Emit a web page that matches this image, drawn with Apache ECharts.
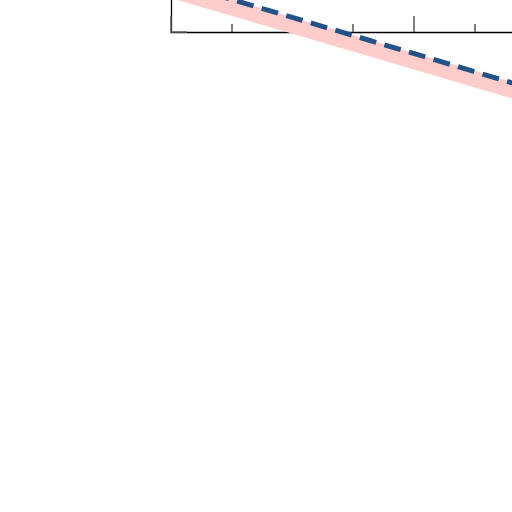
<!DOCTYPE html>
<html>
<head>
<meta charset="utf-8">
<script src="https://cdn.jsdelivr.net/npm/echarts@6/dist/echarts.min.js"></script>
<style>html,body{margin:0;padding:0;background:#fff;}#c{width:512px;height:512px;}</style>
</head>
<body>
<div id="c"></div>
<script>
var xValues = [0, 1, 2, 3];
var bandValues = [0.348, 0.054, -0.240, -0.534];
var dashValues = [0.416, 0.120, -0.177, -0.475];

function pairs(xs, ys) { return xs.map(function (x, i) { return [x, ys[i]]; }); }

var chart = echarts.init(document.getElementById('c'), null, {renderer: 'canvas'});
chart.setOption({
  animation: false,
  backgroundColor: '#ffffff',
  grid: {left: 171, top: -453.2, width: 363.9, height: 485.2, containLabel: false, outerBoundsMode: 'none'},
  xAxis: {
    type: 'value', min: 0, max: 3, interval: 1,
    axisLine: {show: true, lineStyle: {color: '#000', width: 1.3}},
    axisTick: {show: true, inside: true, length: 16, lineStyle: {color: '#555', width: 1.5}},
    minorTick: {show: true, splitNumber: 2, length: 8, lineStyle: {color: '#555', width: 1.5}},
    axisLabel: {show: false},
    splitLine: {show: false}
  },
  yAxis: {
    type: 'value', min: 0, max: 4, interval: 1,
    axisLine: {show: true, lineStyle: {color: '#000', width: 1.3}},
    axisTick: {show: true, inside: true, length: 16, lineStyle: {color: '#666', width: 1.5}},
    axisLabel: {show: false},
    splitLine: {show: false}
  },
  series: [
    {
      type: 'line', data: pairs(xValues, bandValues), showSymbol: false, symbol: 'none', clip: false,
      lineStyle: {color: '#ffcccc', width: 16, cap: 'butt'}, z: 1
    },
    {
      type: 'line', data: pairs(xValues, dashValues), showSymbol: false, symbol: 'none', clip: false,
      lineStyle: {color: '#235289', width: 5, type: [17, 8.6], dashOffset: 7.8, cap: 'butt'}, z: 2
    }
  ]
});
</script>
</body>
</html>
